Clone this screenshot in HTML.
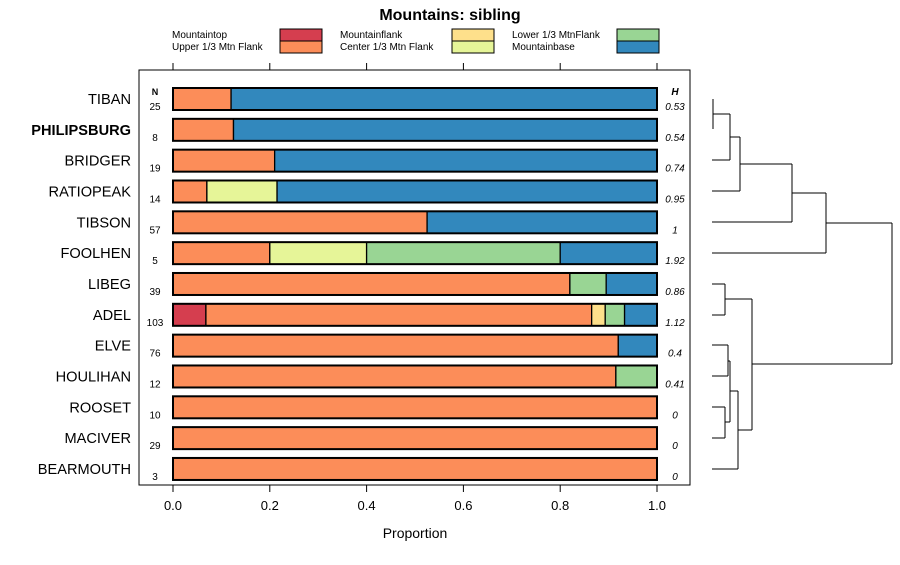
<!DOCTYPE html>
<html><head><meta charset="utf-8"><style>
body{margin:0;background:#fff;font-family:"Liberation Sans",sans-serif}
</style></head><body>
<svg id="chart" width="900" height="560" xmlns="http://www.w3.org/2000/svg" font-family="Liberation Sans, sans-serif">
<text x="450" y="20" text-anchor="middle" font-size="16" font-weight="bold">Mountains: sibling</text>
<g id="legend"></g>
<rect x="139" y="70" width="551" height="415" fill="none" stroke="#000"/>
<g id="bars"></g><g id="axes"></g><g id="dendro" fill="none" stroke="#000"></g>
<text x="415" y="538" text-anchor="middle" font-size="14">Proportion</text>
<text x="155" y="95" text-anchor="middle" font-size="9" font-weight="bold">N</text>
<text x="675" y="95" text-anchor="middle" font-size="10" font-weight="bold" font-style="italic">H</text>
</svg>
<script>
const categories=["TIBAN","PHILIPSBURG","BRIDGER","RATIOPEAK","TIBSON","FOOLHEN","LIBEG","ADEL","ELVE","HOULIHAN","ROOSET","MACIVER","BEARMOUTH"];
const nValues=[25,8,19,14,57,5,39,103,76,12,10,29,3];
const hValues=["0.53","0.54","0.74","0.95","1","1.92","0.86","1.12","0.4","0.41","0","0","0"];
const seriesNames=["Mountaintop","Upper 1/3 Mtn Flank","Mountainflank","Center 1/3 Mtn Flank","Lower 1/3 MtnFlank","Mountainbase"];
const mountaintop=[0,0,0,0,0,0,0,0.068,0,0,0,0,0];
const upperFlank=[0.12,0.125,0.21,0.07,0.525,0.2,0.82,0.797,0.92,0.915,1,1,1];
const mountainflank=[0,0,0,0,0,0,0,0.028,0,0,0,0,0];
const centerFlank=[0,0,0,0.145,0,0.2,0,0,0,0,0,0,0];
const lowerFlank=[0,0,0,0,0,0.4,0.075,0.04,0,0.085,0,0,0];
const mountainbase=[0.88,0.875,0.79,0.785,0.475,0.2,0.105,0.067,0.08,0,0,0,0];
const xTicks=[0,0.2,0.4,0.6,0.8,1.0];
const xTickLabels=["0.0","0.2","0.4","0.6","0.8","1.0"];
const colors=["#D53E4F","#FC8D59","#FEE08B","#E6F598","#99D594","#3288BD"];
const NS="http://www.w3.org/2000/svg";
const X=v=>173+v*484, Y=i=>99+i*30.83;
function mk(p,t,a){const e=document.createElementNS(NS,t);for(const k in a)e.setAttribute(k,a[k]);p.appendChild(e);return e;}
const svg=document.getElementById('chart');
const bars=document.getElementById('bars'),axes=document.getElementById('axes'),leg=document.getElementById('legend');
const series=[mountaintop,upperFlank,mountainflank,centerFlank,lowerFlank,mountainbase];
categories.forEach((c,i)=>{
 let cum=0;const y=Y(i);
 series.forEach((s,k)=>{const v=s[i];if(v>0){
  const r=mk(bars,'rect',{x:X(cum),y:y-11,width:X(cum+v)-X(cum),height:22,fill:colors[k],stroke:'#000','stroke-width':1.3});
  
  
  cum+=v;}});
 const o=mk(bars,'rect',{x:X(0),y:y-11,width:X(1)-X(0),height:22,fill:'none',stroke:'#000','stroke-width':2});
 
 
 const t=mk(axes,'text',{x:131,y:y+5,'text-anchor':'end','font-size':14.6,'font-weight':c==='PHILIPSBURG'?'bold':'normal'});t.textContent=c;
 
 
 const n=mk(axes,'text',{x:155,y:y+11,'text-anchor':'middle','font-size':10});n.textContent=nValues[i];
 
 
 const h=mk(axes,'text',{x:675,y:y+11,'text-anchor':'middle','font-size':10,'font-style':'italic'});h.textContent=hValues[i];
 
 
});
xTicks.forEach((v,i)=>{
 mk(axes,'line',{x1:X(v),x2:X(v),y1:63,y2:70,stroke:'#000'});
 mk(axes,'line',{x1:X(v),x2:X(v),y1:485,y2:492,stroke:'#000'});
 const t=mk(axes,'text',{x:X(v),y:510,'text-anchor':'middle','font-size':13});t.textContent=xTickLabels[i];
 
 
});
const lx=[172,340,512],sx=[280,452,617];
seriesNames.forEach((n,k)=>{const col=Math.floor(k/2),row=k%2;
 const t=mk(leg,'text',{x:lx[col],y:38+row*12,'font-size':10});t.textContent=n;
 
 
 mk(leg,'rect',{x:sx[col],y:29+row*12,width:42,height:12,fill:colors[k],stroke:'#000'});
});
const segs=[[713,99,713,129],[713,114,730,114],[712,160,730,160],[730,114,730,160],[730,137,740,137],[712,191,740,191],[740,137,740,191],[740,164,792,164],[712,222,792,222],[792,164,792,222],[792,193,826,193],[712,253,826,253],[826,193,826,253],[826,223,892,223],
[712,284,725,284],[712,315,725,315],[725,284,725,315],[725,299,752,299],[712,345,728,345],[712,376,728,376],[728,345,728,376],[728,361,730,361],[712,407,725,407],[712,438,725,438],[725,407,725,438],[725,422,730,422],[730,361,730,422],[730,391,738,391],[712,469,738,469],[738,391,738,469],[738,430,752,430],[752,299,752,430],[752,364,892,364],[892,223,892,364]];
const dg=document.getElementById('dendro');
segs.forEach(s=>mk(dg,'line',{x1:s[0],y1:s[1],x2:s[2],y2:s[3]}));
</script>
</body></html>
